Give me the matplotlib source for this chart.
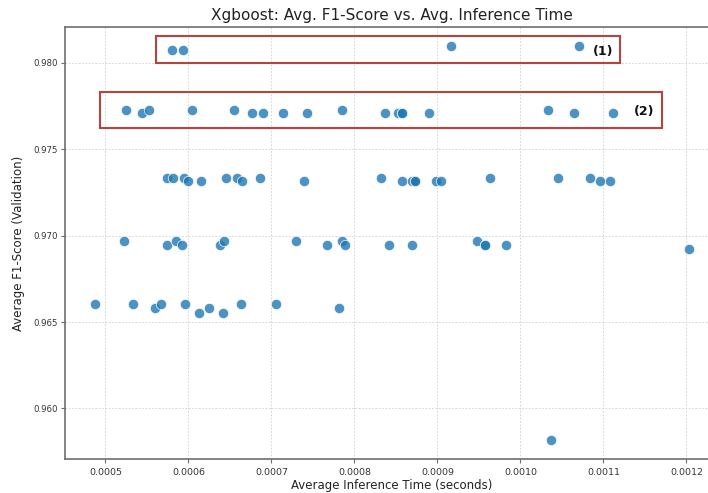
import matplotlib
matplotlib.use("Agg")
import matplotlib.pyplot as plt
from matplotlib.patches import Rectangle

# Average inference time (s) and average validation F1 for each Xgboost configuration
inference_time = [
    # top group
    0.000580, 0.000594, 0.000916, 0.001070,
    # second group
    0.0005245, 0.0005446, 0.0005526, 0.0006045, 0.0006554, 0.0006767, 0.0006904,
    0.0007136, 0.0007434, 0.0007852, 0.0008373, 0.000852, 0.000857, 0.000857,
    0.000890, 0.0010334, 0.0010642, 0.0011112,
    # third group
    0.0005743, 0.0005811, 0.0005943, 0.000600, 0.0006153, 0.0006454, 0.0006582,
    0.0006651, 0.0006867, 0.0007389, 0.0008325, 0.000857, 0.0008695, 0.0008726,
    0.0008726, 0.0008979, 0.0009048, 0.000963, 0.0010454, 0.001084, 0.0010955,
    0.0011076,
    # fourth group
    0.0005229, 0.0005743, 0.0005847, 0.0005924, 0.0006377, 0.000643, 0.0007293,
    0.0007671, 0.0007852, 0.0007888, 0.0008422, 0.000869, 0.0009482, 0.0009578,
    0.0009578, 0.0009823, 0.0012032,
    # fifth group
    0.0004871, 0.0005329, 0.000560, 0.0005671, 0.0005955, 0.0006129, 0.0006249,
    0.0006422, 0.000663, 0.0007052, 0.0007811,
    # outlier
    0.0010373,
]

f1_score = [
    0.98076, 0.98076, 0.98096, 0.98096,
    0.97726, 0.97710, 0.97726, 0.97726, 0.97726, 0.97710, 0.97710,
    0.97710, 0.97710, 0.97726, 0.97710, 0.97710, 0.97710, 0.97710,
    0.97710, 0.97726, 0.97710, 0.97710,
    0.97336, 0.97336, 0.97336, 0.97314, 0.97314, 0.97336, 0.97336,
    0.97314, 0.97336, 0.97314, 0.97336, 0.97314, 0.97314, 0.97314,
    0.97314, 0.97314, 0.97314, 0.97336, 0.97336, 0.97336, 0.97314,
    0.97314,
    0.96969, 0.96944, 0.96969, 0.96944, 0.96944, 0.96969, 0.96969,
    0.96944, 0.96969, 0.96944, 0.96944, 0.96944, 0.96969, 0.96944,
    0.96944, 0.96944, 0.96921,
    0.96604, 0.96604, 0.96579, 0.96604, 0.96604, 0.96550, 0.96579,
    0.96550, 0.96604, 0.96604, 0.96579,
    0.95819,
]

x_ticks = [0.0005, 0.0006, 0.0007, 0.0008, 0.0009, 0.0010, 0.0011, 0.0012]
y_ticks = [0.960, 0.965, 0.970, 0.975, 0.980]

# Highlighted groups: (label, x0, x1, y0, y1, label_x, label_y)
highlight_boxes = [
    ("(1)", 0.000561, 0.0011205, 0.97997, 0.98154, 0.001100, 0.98064),
    ("(2)", 0.000494, 0.001171, 0.97624, 0.97831, 0.001149, 0.97720),
]

spine_color = "#6e6e6e"
box_color = "#b5443f"

fig = plt.figure(figsize=(7.08, 4.93), dpi=100)
ax = fig.add_axes([65 / 708, 33.7 / 493, 653.8 / 708, 432.6 / 493])

ax.scatter(inference_time, f1_score, s=55, color="#1f77b4", alpha=0.8,
           edgecolors="white", linewidths=0.6, zorder=3)

ax.set_xticks(x_ticks)
ax.set_yticks(y_ticks)
ax.set_xticklabels([f"{v:.4f}" for v in x_ticks])
ax.set_yticklabels([f"{v:.3f}" for v in y_ticks])
ax.tick_params(axis="x", labelsize=6.8, colors="#333333", length=3,
               width=0.8, pad=3, color=spine_color)
ax.tick_params(axis="y", labelsize=6.2, colors="#333333", length=3,
               width=0.8, pad=2, color=spine_color)

ax.grid(True, color="#cfcfcf", linestyle=(0, (2, 2)), linewidth=0.6, zorder=0)
ax.set_axisbelow(True)
for side in ax.spines.values():
    side.set_color(spine_color)
    side.set_linewidth(1.2)
ax.spines["right"].set_visible(False)

ax.set_title("Xgboost: Avg. F1-Score vs. Avg. Inference Time", fontsize=11,
             pad=4.5, color="#222222")
ax.set_xlabel("Average Inference Time (seconds)", fontsize=8.5,
              labelpad=1.5, color="#222222")
ax.set_ylabel("Average F1-Score (Validation)", fontsize=8.5,
              labelpad=6, color="#222222")

for label, x0, x1, y0, y1, lx, ly in highlight_boxes:
    ax.add_patch(Rectangle((x0, y0), x1 - x0, y1 - y0, fill=False,
                           edgecolor=box_color, linewidth=1.5, zorder=4,
                           clip_on=False))
    ax.text(lx, ly, label, fontsize=9, fontweight="bold", ha="center",
            va="center", color="#111111", zorder=5)

fig.savefig("out.png", dpi=100)
